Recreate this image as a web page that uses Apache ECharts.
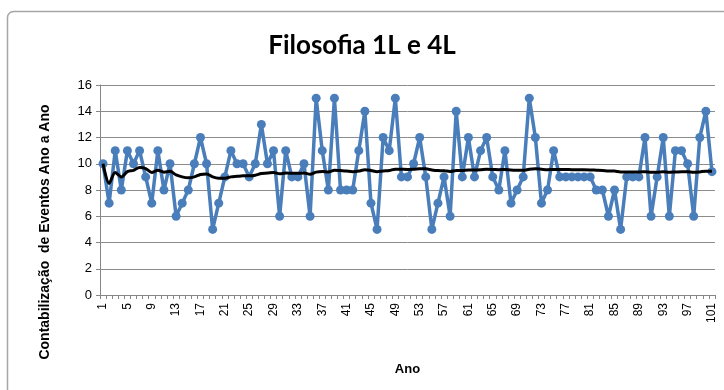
<!DOCTYPE html>
<html>
<head>
<meta charset="utf-8">
<script src="https://cdn.jsdelivr.net/npm/echarts@6/dist/echarts.min.js"></script>
<style>
  html, body { margin: 0; padding: 0; background: #fff; }
  #chart { width: 724px; height: 390px; }
</style>
</head>
<body>
<div id="chart"></div>
<script>
// Year index 1..101
const anos = [];
for (let i = 1; i <= 101; i++) anos.push(String(i));

// Events counted per year
const eventos = [
  10, 7, 11, 8, 11, 10, 11, 9, 7, 11,
  8, 10, 6, 7, 8, 10, 12, 10, 5, 7,
  9, 11, 10, 10, 9, 10, 13, 10, 11, 6,
  11, 9, 9, 10, 6, 15, 11, 8, 15, 8,
  8, 8, 11, 14, 7, 5, 12, 11, 15, 9,
  9, 10, 12, 9, 5, 7, 9, 6, 14, 9,
  12, 9, 11, 12, 9, 8, 11, 7, 8, 9,
  15, 12, 7, 8, 11, 9, 9, 9, 9, 9,
  9, 8, 8, 6, 8, 5, 9, 9, 9, 12,
  6, 9, 12, 6, 11, 11, 10, 6, 12, 14, 9.4
];

// Running average of the events
const media = [
  10.00, 8.50, 9.33, 9.00, 9.40, 9.50, 9.71, 9.63, 9.33, 9.50,
  9.36, 9.42, 9.15, 9.00, 8.93, 9.00, 9.18, 9.22, 9.00, 8.90,
  8.90, 9.00, 9.04, 9.08, 9.08, 9.12, 9.26, 9.29, 9.34, 9.23,
  9.29, 9.28, 9.27, 9.29, 9.20, 9.36, 9.41, 9.37, 9.51, 9.48,
  9.44, 9.40, 9.44, 9.55, 9.49, 9.39, 9.45, 9.48, 9.59, 9.58,
  9.57, 9.58, 9.62, 9.61, 9.53, 9.48, 9.47, 9.41, 9.49, 9.48,
  9.52, 9.52, 9.54, 9.58, 9.57, 9.55, 9.57, 9.53, 9.51, 9.50,
  9.58, 9.61, 9.58, 9.55, 9.57, 9.57, 9.56, 9.55, 9.54, 9.54,
  9.53, 9.51, 9.49, 9.45, 9.44, 9.38, 9.38, 9.38, 9.37, 9.40,
  9.36, 9.36, 9.39, 9.35, 9.37, 9.39, 9.39, 9.35, 9.38, 9.43, 9.43
];

const chart = echarts.init(document.getElementById('chart'), null, { renderer: 'canvas' });

chart.setOption({
  backgroundColor: '#ffffff',
  animation: false,
  title: {
    text: 'Filosofia 1L e 4L',
    left: 'center',
    top: 28,
    textStyle: { fontFamily: 'Lato', fontWeight: 'bold', fontSize: 26, color: '#000' }
  },
  graphic: [
    {
      type: 'rect',
      shape: { x: 7.5, y: 11.5, width: 760, height: 420, r: 6 },
      style: { fill: 'none', stroke: '#a6a6a6', lineWidth: 1.5 },
      z: -1
    },
    {
      type: 'text',
      x: 45, y: 232,
      rotation: Math.PI / 2,
      style: {
        text: 'Contabilização  de Eventos Ano a Ano',
        fontFamily: 'Liberation Sans', fontWeight: 'bold', fontSize: 14,
        fill: '#000', align: 'center', verticalAlign: 'middle'
      }
    }
  ],
  grid: { left: 100, right: 9, top: 85, bottom: 95 },
  xAxis: {
    type: 'category',
    data: anos,
    boundaryGap: true,
    name: 'Ano',
    nameLocation: 'middle',
    nameGap: 68,
    nameTextStyle: { fontFamily: 'Liberation Sans', fontWeight: 'bold', fontSize: 13, color: '#000' },
    axisLine: { lineStyle: { color: '#868686', width: 1 } },
    axisTick: { show: true, interval: 0, length: 4, lineStyle: { color: '#868686' } },
    axisLabel: {
      interval: 3, rotate: 90, margin: 8,
      fontFamily: 'Liberation Sans', fontSize: 12, color: '#000'
    },
    splitLine: { show: false }
  },
  yAxis: {
    type: 'value',
    min: 0, max: 16, interval: 2,
    axisLine: { show: true, lineStyle: { color: '#868686', width: 1 } },
    axisTick: { show: true, length: 4, lineStyle: { color: '#868686' } },
    axisLabel: { fontFamily: 'Liberation Sans', fontSize: 13, color: '#000', margin: 8 },
    splitLine: { lineStyle: { color: '#8c8c8c', width: 1 } }
  },
  series: [
    {
      name: 'Eventos',
      type: 'line',
      data: eventos,
      symbol: 'circle',
      symbolSize: 9,
      showAllSymbol: true,
      itemStyle: { color: '#4a7ebb' },
      lineStyle: { color: '#4a7ebb', width: 3.5 },
      z: 2
    },
    {
      name: 'Média',
      type: 'line',
      data: media,
      symbol: 'none',
      smooth: 0.3,
      lineStyle: { color: '#000000', width: 3 },
      z: 3
    }
  ]
});
</script>
</body>
</html>
